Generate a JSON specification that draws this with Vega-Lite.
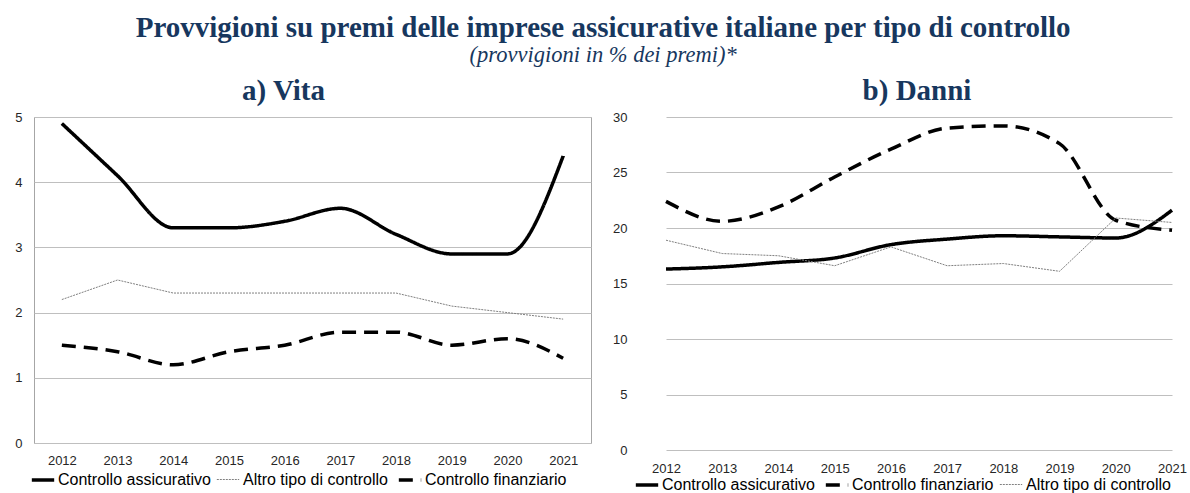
{
  "$schema": "https://vega.github.io/schema/vega-lite/v6.json",
  "background": "white",
  "padding": {"left": 14, "top": 14, "right": 0, "bottom": 0},
  "title": {
    "text": "Provvigioni su premi delle imprese assicurative italiane per tipo di controllo",
    "subtitle": "(provvigioni in % dei premi)*",
    "font": "Liberation Serif", "fontSize": 29, "fontWeight": "bold", "color": "#17375E",
    "subtitleFont": "Liberation Serif", "subtitleFontSize": 22.5, "subtitleFontStyle": "italic", "subtitleColor": "#17375E",
    "subtitlePadding": 1, "anchor": "middle", "offset": 10
  },
  "datasets": {
    "d": [
      {"pannello": "Vita", "anno": "2012", "serie": "Controllo assicurativo", "valore": 4.9},
      {"pannello": "Vita", "anno": "2013", "serie": "Controllo assicurativo", "valore": 4.1},
      {"pannello": "Vita", "anno": "2014", "serie": "Controllo assicurativo", "valore": 3.3},
      {"pannello": "Vita", "anno": "2015", "serie": "Controllo assicurativo", "valore": 3.3},
      {"pannello": "Vita", "anno": "2016", "serie": "Controllo assicurativo", "valore": 3.4},
      {"pannello": "Vita", "anno": "2017", "serie": "Controllo assicurativo", "valore": 3.6},
      {"pannello": "Vita", "anno": "2018", "serie": "Controllo assicurativo", "valore": 3.2},
      {"pannello": "Vita", "anno": "2019", "serie": "Controllo assicurativo", "valore": 2.9},
      {"pannello": "Vita", "anno": "2020", "serie": "Controllo assicurativo", "valore": 2.9},
      {"pannello": "Vita", "anno": "2021", "serie": "Controllo assicurativo", "valore": 4.4},
      {"pannello": "Vita", "anno": "2012", "serie": "Altro tipo di controllo", "valore": 2.2},
      {"pannello": "Vita", "anno": "2013", "serie": "Altro tipo di controllo", "valore": 2.5},
      {"pannello": "Vita", "anno": "2014", "serie": "Altro tipo di controllo", "valore": 2.3},
      {"pannello": "Vita", "anno": "2015", "serie": "Altro tipo di controllo", "valore": 2.3},
      {"pannello": "Vita", "anno": "2016", "serie": "Altro tipo di controllo", "valore": 2.3},
      {"pannello": "Vita", "anno": "2017", "serie": "Altro tipo di controllo", "valore": 2.3},
      {"pannello": "Vita", "anno": "2018", "serie": "Altro tipo di controllo", "valore": 2.3},
      {"pannello": "Vita", "anno": "2019", "serie": "Altro tipo di controllo", "valore": 2.1},
      {"pannello": "Vita", "anno": "2020", "serie": "Altro tipo di controllo", "valore": 2.0},
      {"pannello": "Vita", "anno": "2021", "serie": "Altro tipo di controllo", "valore": 1.9},
      {"pannello": "Vita", "anno": "2012", "serie": "Controllo finanziario", "valore": 1.5},
      {"pannello": "Vita", "anno": "2013", "serie": "Controllo finanziario", "valore": 1.4},
      {"pannello": "Vita", "anno": "2014", "serie": "Controllo finanziario", "valore": 1.2},
      {"pannello": "Vita", "anno": "2015", "serie": "Controllo finanziario", "valore": 1.4},
      {"pannello": "Vita", "anno": "2016", "serie": "Controllo finanziario", "valore": 1.5},
      {"pannello": "Vita", "anno": "2017", "serie": "Controllo finanziario", "valore": 1.7},
      {"pannello": "Vita", "anno": "2018", "serie": "Controllo finanziario", "valore": 1.7},
      {"pannello": "Vita", "anno": "2019", "serie": "Controllo finanziario", "valore": 1.5},
      {"pannello": "Vita", "anno": "2020", "serie": "Controllo finanziario", "valore": 1.6},
      {"pannello": "Vita", "anno": "2021", "serie": "Controllo finanziario", "valore": 1.3},
      {"pannello": "Danni", "anno": "2012", "serie": "Controllo assicurativo", "valore": 16.3},
      {"pannello": "Danni", "anno": "2013", "serie": "Controllo assicurativo", "valore": 16.5},
      {"pannello": "Danni", "anno": "2014", "serie": "Controllo assicurativo", "valore": 16.9},
      {"pannello": "Danni", "anno": "2015", "serie": "Controllo assicurativo", "valore": 17.3},
      {"pannello": "Danni", "anno": "2016", "serie": "Controllo assicurativo", "valore": 18.5},
      {"pannello": "Danni", "anno": "2017", "serie": "Controllo assicurativo", "valore": 19.0},
      {"pannello": "Danni", "anno": "2018", "serie": "Controllo assicurativo", "valore": 19.3},
      {"pannello": "Danni", "anno": "2019", "serie": "Controllo assicurativo", "valore": 19.2},
      {"pannello": "Danni", "anno": "2020", "serie": "Controllo assicurativo", "valore": 19.1},
      {"pannello": "Danni", "anno": "2021", "serie": "Controllo assicurativo", "valore": 21.6},
      {"pannello": "Danni", "anno": "2012", "serie": "Controllo finanziario", "valore": 22.4},
      {"pannello": "Danni", "anno": "2013", "serie": "Controllo finanziario", "valore": 20.6},
      {"pannello": "Danni", "anno": "2014", "serie": "Controllo finanziario", "valore": 21.9},
      {"pannello": "Danni", "anno": "2015", "serie": "Controllo finanziario", "valore": 24.6},
      {"pannello": "Danni", "anno": "2016", "serie": "Controllo finanziario", "valore": 27.1},
      {"pannello": "Danni", "anno": "2017", "serie": "Controllo finanziario", "valore": 29.0},
      {"pannello": "Danni", "anno": "2018", "serie": "Controllo finanziario", "valore": 29.2},
      {"pannello": "Danni", "anno": "2019", "serie": "Controllo finanziario", "valore": 27.6},
      {"pannello": "Danni", "anno": "2020", "serie": "Controllo finanziario", "valore": 20.7},
      {"pannello": "Danni", "anno": "2021", "serie": "Controllo finanziario", "valore": 19.8},
      {"pannello": "Danni", "anno": "2012", "serie": "Altro tipo di controllo", "valore": 18.9},
      {"pannello": "Danni", "anno": "2013", "serie": "Altro tipo di controllo", "valore": 17.7},
      {"pannello": "Danni", "anno": "2014", "serie": "Altro tipo di controllo", "valore": 17.5},
      {"pannello": "Danni", "anno": "2015", "serie": "Altro tipo di controllo", "valore": 16.6},
      {"pannello": "Danni", "anno": "2016", "serie": "Altro tipo di controllo", "valore": 18.3},
      {"pannello": "Danni", "anno": "2017", "serie": "Altro tipo di controllo", "valore": 16.6},
      {"pannello": "Danni", "anno": "2018", "serie": "Altro tipo di controllo", "valore": 16.8},
      {"pannello": "Danni", "anno": "2019", "serie": "Altro tipo di controllo", "valore": 16.1},
      {"pannello": "Danni", "anno": "2020", "serie": "Altro tipo di controllo", "valore": 20.9},
      {"pannello": "Danni", "anno": "2021", "serie": "Altro tipo di controllo", "valore": 20.5}
    ]
  },
  "data": {"name": "d"},
  "spacing": 20,
  "hconcat": [
    {
      "width": 557,
      "height": 326,
      "view": {"stroke": "#A6A6A6", "strokeWidth": 1},
      "title": {"text": "a) Vita", "font": "Liberation Serif", "fontSize": 29, "fontWeight": "bold", "color": "#17375E", "anchor": "middle", "dx": -29, "offset": 5},
      "transform": [{"filter": "datum.pannello == 'Vita'"}],
      "encoding": {
        "x": {"field": "anno", "type": "ordinal", "scale": {"type": "point", "padding": 0.5},
              "axis": {"title": null, "labelAngle": 0, "domain": false, "ticks": false, "tickSize": 0, "labelPadding": 11, "grid": false}},
        "y": {"field": "valore", "type": "quantitative", "scale": {"domain": [0, 5], "nice": false},
              "axis": {"title": null, "values": [0, 1, 2, 3, 4, 5], "domain": false, "ticks": false, "tickSize": 0, "labelPadding": 12, "grid": true}},
        "color": {"field": "serie", "type": "nominal",
                  "scale": {"domain": ["Controllo assicurativo", "Altro tipo di controllo", "Controllo finanziario"], "range": ["#000000", "#808080", "#000000"]},
                  "legend": {"orient": "none", "legendX": -4, "legendY": 350, "direction": "horizontal", "columns": 3, "title": null}},
        "strokeDash": {"field": "serie", "type": "nominal",
                  "scale": {"domain": ["Controllo assicurativo", "Altro tipo di controllo", "Controllo finanziario"], "range": [[1, 0], [2, 1], [14, 8]]},
                  "legend": {"orient": "none", "legendX": -4, "legendY": 350, "direction": "horizontal", "columns": 3, "title": null}},
        "strokeWidth": {"field": "serie", "type": "ordinal",
                  "scale": {"type": "ordinal", "domain": ["Controllo assicurativo", "Altro tipo di controllo", "Controllo finanziario"], "range": [3.5, 1, 3.5]},
                  "legend": {"orient": "none", "legendX": -4, "legendY": 350, "direction": "horizontal", "columns": 3, "title": null}}
      },
      "layer": [
        {"transform": [{"filter": "datum.serie != 'Altro tipo di controllo'"}], "mark": {"type": "line", "interpolate": "monotone"}},
        {"transform": [{"filter": "datum.serie == 'Altro tipo di controllo'"}], "mark": {"type": "line"}}
      ]
    },
    {
      "width": 558,
      "height": 333,
      "view": {"stroke": null},
      "title": {"text": "b) Danni", "font": "Liberation Serif", "fontSize": 29, "fontWeight": "bold", "color": "#17375E", "anchor": "middle", "dx": 4, "offset": 5},
      "transform": [{"filter": "datum.pannello == 'Danni'"}],
      "encoding": {
        "x": {"field": "anno", "type": "ordinal", "scale": {"type": "point", "padding": 0, "range": [32, 538]},
              "axis": {"title": null, "labelAngle": 0, "domain": false, "ticks": false, "tickSize": 0, "labelPadding": 12, "grid": false}},
        "y": {"field": "valore", "type": "quantitative", "scale": {"domain": [0, 30], "nice": false},
              "axis": {"title": null, "values": [0, 5, 10, 15, 20, 25, 30], "domain": false, "ticks": false, "tickSize": 0, "labelPadding": 7, "grid": true}},
        "color": {"field": "serie", "type": "nominal",
                  "scale": {"domain": ["Controllo assicurativo", "Controllo finanziario", "Altro tipo di controllo"], "range": ["#000000", "#000000", "#808080"]},
                  "legend": {"orient": "none", "legendX": 0, "legendY": 355, "direction": "horizontal", "columns": 3, "title": null}},
        "strokeDash": {"field": "serie", "type": "nominal",
                  "scale": {"domain": ["Controllo assicurativo", "Controllo finanziario", "Altro tipo di controllo"], "range": [[1, 0], [14, 8], [2, 1]]},
                  "legend": {"orient": "none", "legendX": 0, "legendY": 355, "direction": "horizontal", "columns": 3, "title": null}},
        "strokeWidth": {"field": "serie", "type": "ordinal",
                  "scale": {"type": "ordinal", "domain": ["Controllo assicurativo", "Controllo finanziario", "Altro tipo di controllo"], "range": [3.5, 3.5, 1]},
                  "legend": {"orient": "none", "legendX": 0, "legendY": 355, "direction": "horizontal", "columns": 3, "title": null}}
      },
      "layer": [
        {"transform": [{"filter": "datum.serie != 'Altro tipo di controllo'"}], "mark": {"type": "line", "interpolate": "monotone"}},
        {"transform": [{"filter": "datum.serie == 'Altro tipo di controllo'"}], "mark": {"type": "line"}}
      ]
    }
  ],
  "resolve": {
    "scale": {"color": "independent", "strokeDash": "independent", "strokeWidth": "independent", "x": "independent", "y": "independent"},
    "legend": {"color": "independent", "strokeDash": "independent", "strokeWidth": "independent"}
  },
  "config": {
    "axis": {"labelFont": "Liberation Sans", "labelFontSize": 13, "labelColor": "#262626", "gridColor": "#BFBFBF", "gridWidth": 1},
    "legend": {"labelFont": "Liberation Sans", "labelFontSize": 16, "labelColor": "#000000", "labelLimit": 400, "symbolType": "stroke", "symbolSize": 500, "labelOffset": 2, "columnPadding": 3, "padding": 0, "rowPadding": 0}
  }
}
